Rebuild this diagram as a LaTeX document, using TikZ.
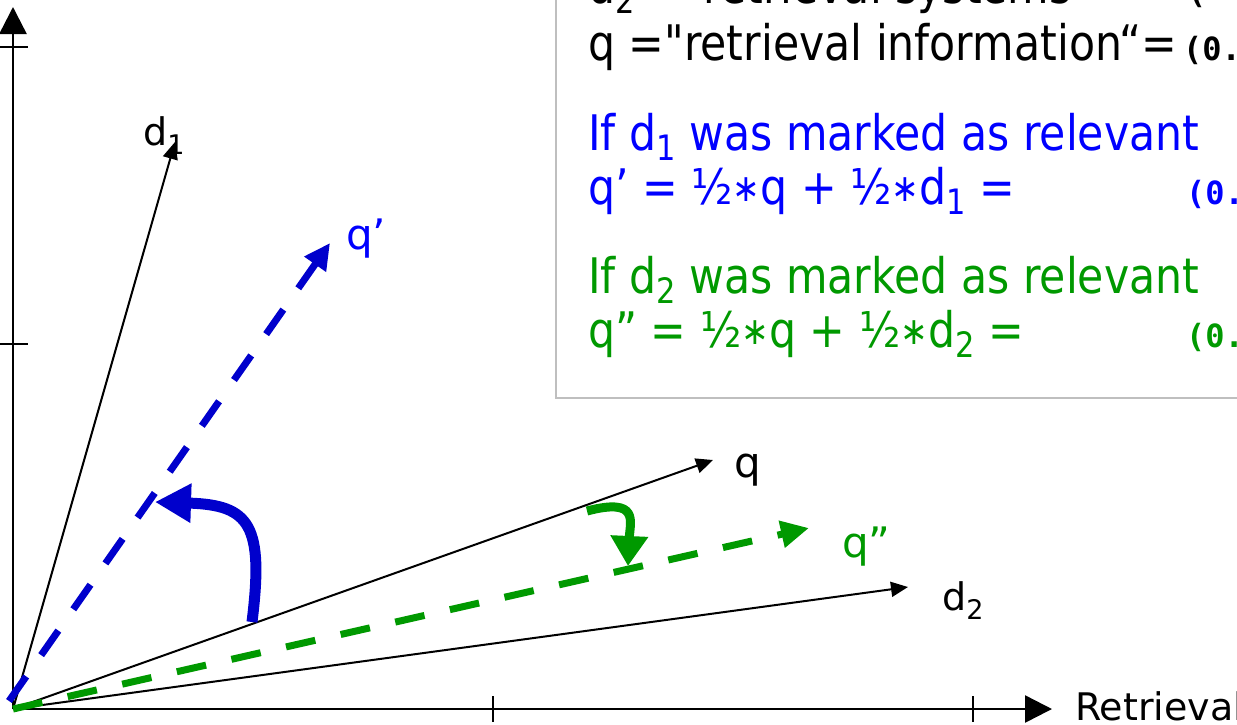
\documentclass[tikz,border=0pt]{standalone}
\usepackage{fontspec}
\setmainfont{DejaVu Sans}
\newfontfamily\boxfont{DejaVu Sans}[FakeStretch=0.87]
\newfontfamily\codefont{DejaVu Sans Mono}
\usetikzlibrary{arrows.meta}
\definecolor{tblue}{RGB}{0,0,255}
\definecolor{lblue}{RGB}{0,0,204}
\definecolor{tgreen}{RGB}{0,153,0}
\definecolor{boxgray}{RGB}{191,191,191}
\newcommand\bsub[1]{\raisebox{-10pt}{\fontsize{35}{40}\selectfont #1}}
\newcommand\lsub[1]{\raisebox{-9pt}{\fontsize{27}{30}\selectfont #1}}
\newcommand\smallstar{\raisebox{3pt}{\fontsize{38}{40}\selectfont ∗}}
\begin{document}
\begin{tikzpicture}[x=1pt,y=-1pt,
  axisarrow/.style={line width=2.5pt,-{Triangle[length=27pt,width=27pt]}},
  tick/.style={line width=2pt},
  vec/.style={line width=2pt,-{Triangle[length=17pt,width=15pt]}},
  qdash/.style={line width=7pt,dash pattern=on 30pt off 26pt},
  bluevec/.style={qdash,draw=lblue,-{Triangle[length=26pt,width=25pt]}},
  greenvec/.style={qdash,draw=tgreen,-{Triangle[length=28pt,width=26pt]}},
  bluebend/.style={line width=11pt,draw=lblue,-{Triangle[length=36pt,width=37pt]}},
  greenbend/.style={line width=9pt,draw=tgreen,-{Triangle[length=30pt,width=36pt]}},
  boxtext/.style={inner sep=0pt,anchor=base west,font=\boxfont\fontsize{49}{58}\selectfont},
  codetext/.style={inner sep=0pt,anchor=base west,font=\codefont\bfseries\fontsize{32}{36}\selectfont},
  label/.style={inner sep=0pt,anchor=base west,font=\fontsize{38}{44}\selectfont},
  qlabel/.style={inner sep=0pt,anchor=base west,font=\fontsize{42}{48}\selectfont},
]
\useasboundingbox (0,0) rectangle (1237,724);
\clip (0,0) rectangle (1237,724);

% text box
\draw[boxgray,line width=2pt,fill=white] (556,-20) rectangle (1260,398);
\node[boxtext] (l0) at (588,3) {d\bsub{2} ="retrieval systems“};
\node[codetext] (c0) at (1187,3) {(};
\node[boxtext] (l1) at (588,60) {q ="retrieval information“=};
\node[codetext] (c1) at (1183,60) {(0.};
\node[boxtext,text=tblue] (l2) at (588,150) {If d\bsub{1} was marked as relevant};
\node[boxtext,text=tblue] (l3) at (588,204) {q’ = ½\smallstar q + ½\smallstar d\bsub{1} =};
\node[codetext,text=tblue] (c3) at (1186,204) {(0.};
\node[boxtext,text=tgreen] (l4) at (588,293) {If d\bsub{2} was marked as relevant};
\node[boxtext,text=tgreen] (l5) at (588,347) {q” = ½\smallstar q + ½\smallstar d\bsub{2} =};
\node[codetext,text=tgreen] (c5) at (1186,347) {(0.};

% coordinates
\coordinate (O) at (13,709);
\coordinate (ytip) at (13,7);
\coordinate (xtip) at (1052,709);
\coordinate (d1) at (175,142);
\coordinate (q) at (713,460);
\coordinate (d2) at (908,587);
\coordinate (qp) at (330,243);
\coordinate (qpp) at (809,528);
\coordinate (Ob) at (9,701);

% axes
\draw[axisarrow] (O) -- (ytip);
\draw[axisarrow] (O) -- (xtip);
\draw[tick] (0,47) -- (28,47);
\draw[tick] (0,344) -- (28,344);
\draw[tick] (493,696) -- (493,722);
\draw[tick] (973,696) -- (973,722);

% vectors
\draw[vec] (O) -- (d1);
\draw[vec] (O) -- (q);
\draw[vec] (O) -- (d2);
\draw[bluevec] (Ob) -- (qp);
\draw[greenvec] (O) -- (qpp);

% bending arrows
\coordinate (bs) at (252,622);
\coordinate (be) at (155,502);
\draw[bluebend] (bs) .. controls (264,525) and (250,505) .. (be);
\coordinate (gs) at (587,511);
\coordinate (ge) at (628,566);
\draw[greenbend] (gs) .. controls (640,497) and (630,522) .. (ge);

% labels
\node[label] (Ld1) at (143,145) {d\lsub{1}};
\node[qlabel] (Lq) at (734,477) {q};
\node[qlabel,text=tblue] (Lqp) at (346,249) {q’};
\node[qlabel,text=tgreen] (Lqpp) at (842,557) {q”};
\node[label] (Ld2) at (942,610) {d\lsub{2}};
\node[label] (Lr) at (1075,720) {Retrieval};
\end{tikzpicture}
\end{document}
